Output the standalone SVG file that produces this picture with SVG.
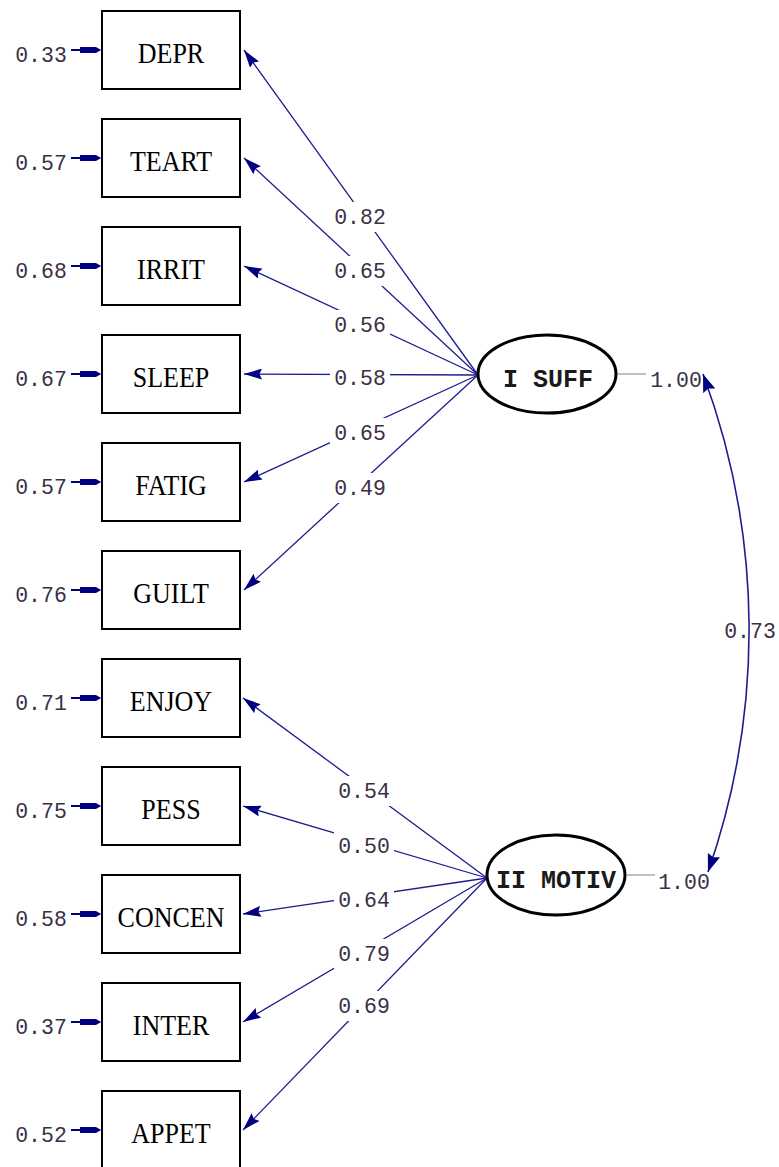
<svg xmlns="http://www.w3.org/2000/svg" width="779" height="1167" viewBox="0 0 779 1167">
<style>
.box{fill:#fff;stroke:#000;stroke-width:2}
.btxt{font-family:"Liberation Serif",serif;font-size:26px;fill:#000;text-anchor:middle;transform-box:fill-box;transform-origin:center;transform:scaleY(1.16)}
.num{font-family:"Liberation Mono",monospace;font-size:21.5px;fill:#3a2f45;text-anchor:middle}
.lat{fill:#fff;stroke:#000;stroke-width:3}
.ltxt{font-family:"Liberation Mono",monospace;font-size:25px;font-weight:bold;fill:#1a1a1a;text-anchor:middle}
.path{stroke:#1c1c8f;stroke-width:1.3;fill:none;marker-end:url(#ah)}
.err{stroke:#000080;stroke-width:2}
.gap{fill:#fff}
.gray{stroke:#aaa;stroke-width:1.5}
</style>
<defs>
<marker id="ah" markerUnits="userSpaceOnUse" markerWidth="18" markerHeight="11" refX="18" refY="5.5" orient="auto" viewBox="0 0 18 11">
<path d="M18,5.5 L0,0 L2.5,5.5 L0,11 z" fill="#000080"/>
</marker>
<marker id="ah2" markerUnits="userSpaceOnUse" markerWidth="18" markerHeight="13" refX="18" refY="6.5" orient="auto-start-reverse" viewBox="0 0 18 13">
<path d="M18,6.5 L0,0 L2.5,6.5 L0,13 z" fill="#000080"/>
</marker>
<g id="errhead"><line x1="71" y1="0" x2="100" y2="0" class="err"/><path d="M80,-3 L96,-3 L101,0 L96,3 L80,3 z" fill="#000080"/></g>
</defs>

<g id="connectors">
<path class="path" d="M478,375 L244,50"/>
<path class="path" d="M478,375 L244,158"/>
<path class="path" d="M478,375 L244,266"/>
<path class="path" d="M478,375 L244,374"/>
<path class="path" d="M478,375 L244,482"/>
<path class="path" d="M478,375 L244,590"/>
<path class="path" d="M487,878 L243,698"/>
<path class="path" d="M487,878 L243,806"/>
<path class="path" d="M487,878 L243,914"/>
<path class="path" d="M487,878 L243,1022"/>
<path class="path" d="M487,878 L243,1130"/>
<path d="M703,374 A734,734 0 0 1 708,872" stroke="#1c1c8f" stroke-width="1.6" fill="none" marker-start="url(#ah2)" marker-end="url(#ah2)"/>
<line class="gray" x1="618" y1="374" x2="646" y2="374"/>
<line class="gray" x1="627" y1="875" x2="655" y2="875"/>
<use href="#errhead" y="50"/>
<use href="#errhead" y="158"/>
<use href="#errhead" y="266"/>
<use href="#errhead" y="374"/>
<use href="#errhead" y="482"/>
<use href="#errhead" y="590"/>
<use href="#errhead" y="698"/>
<use href="#errhead" y="806"/>
<use href="#errhead" y="914"/>
<use href="#errhead" y="1022"/>
<use href="#errhead" y="1130"/>
</g>

<g id="path-labels">
<rect class="gap" x="330" y="202" width="60" height="30"/><text class="num" x="360" y="224">0.82</text>
<rect class="gap" x="330" y="256" width="60" height="30"/><text class="num" x="360" y="278">0.65</text>
<rect class="gap" x="330" y="310" width="60" height="30"/><text class="num" x="360" y="332">0.56</text>
<rect class="gap" x="330" y="365" width="60" height="28"/><text class="num" x="360" y="385">0.58</text>
<rect class="gap" x="330" y="418" width="60" height="30"/><text class="num" x="360" y="440">0.65</text>
<rect class="gap" x="330" y="473" width="60" height="30"/><text class="num" x="360" y="495">0.49</text>
<rect class="gap" x="334" y="776" width="60" height="30"/><text class="num" x="364" y="798">0.54</text>
<rect class="gap" x="334" y="831" width="60" height="30"/><text class="num" x="364" y="853">0.50</text>
<rect class="gap" x="334" y="885" width="60" height="30"/><text class="num" x="364" y="907">0.64</text>
<rect class="gap" x="334" y="939" width="60" height="30"/><text class="num" x="364" y="961">0.79</text>
<rect class="gap" x="334" y="991" width="60" height="30"/><text class="num" x="364" y="1013">0.69</text>
<text class="num" x="676" y="387">1.00</text>
<text class="num" x="684" y="889">1.00</text>
<text class="num" x="750" y="638">0.73</text>
</g>

<g id="DEPR"><rect class="box" x="102" y="11" width="138" height="78"/><text class="btxt" x="171" y="62">DEPR</text><text class="num" x="41" y="62">0.33</text></g>
<g id="TEART"><rect class="box" x="102" y="119" width="138" height="78"/><text class="btxt" x="171" y="170">TEART</text><text class="num" x="41" y="170">0.57</text></g>
<g id="IRRIT"><rect class="box" x="102" y="227" width="138" height="78"/><text class="btxt" x="171" y="278">IRRIT</text><text class="num" x="41" y="278">0.68</text></g>
<g id="SLEEP"><rect class="box" x="102" y="335" width="138" height="78"/><text class="btxt" x="171" y="386">SLEEP</text><text class="num" x="41" y="386">0.67</text></g>
<g id="FATIG"><rect class="box" x="102" y="443" width="138" height="78"/><text class="btxt" x="171" y="494">FATIG</text><text class="num" x="41" y="494">0.57</text></g>
<g id="GUILT"><rect class="box" x="102" y="551" width="138" height="78"/><text class="btxt" x="171" y="602">GUILT</text><text class="num" x="41" y="602">0.76</text></g>
<g id="ENJOY"><rect class="box" x="102" y="659" width="138" height="78"/><text class="btxt" x="171" y="710">ENJOY</text><text class="num" x="41" y="710">0.71</text></g>
<g id="PESS"><rect class="box" x="102" y="767" width="138" height="78"/><text class="btxt" x="171" y="818">PESS</text><text class="num" x="41" y="818">0.75</text></g>
<g id="CONCEN"><rect class="box" x="102" y="875" width="138" height="78"/><text class="btxt" x="171" y="926">CONCEN</text><text class="num" x="41" y="926">0.58</text></g>
<g id="INTER"><rect class="box" x="102" y="983" width="138" height="78"/><text class="btxt" x="171" y="1034">INTER</text><text class="num" x="41" y="1034">0.37</text></g>
<g id="APPET"><rect class="box" x="102" y="1091" width="138" height="78"/><text class="btxt" x="171" y="1142">APPET</text><text class="num" x="41" y="1142">0.52</text></g>

<g id="SUFF"><ellipse class="lat" cx="547" cy="374" rx="69" ry="39"/><text class="ltxt" x="548" y="387">I SUFF</text></g>
<g id="MOTIV"><ellipse class="lat" cx="556" cy="875" rx="69" ry="40"/><text class="ltxt" x="556" y="888">II MOTIV</text></g>
</svg>
